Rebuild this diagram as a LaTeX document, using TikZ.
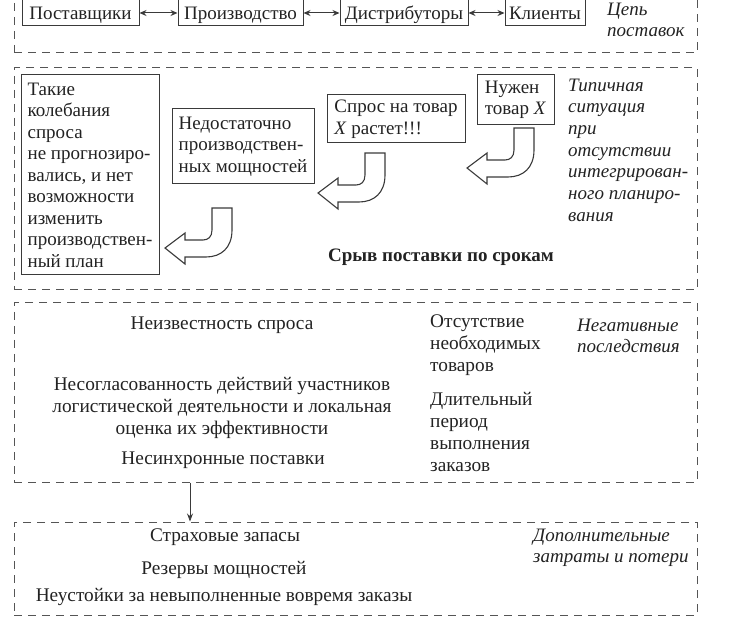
\documentclass[tikz,border=0pt]{standalone}
\usepackage{fontspec}
\setmainfont{Liberation Serif}
\usetikzlibrary{arrows.meta}
\definecolor{ink}{HTML}{222222}
\definecolor{lin}{HTML}{3A3A3A}
\definecolor{dlin}{HTML}{555555}
\begin{document}
\begin{tikzpicture}[x=1pt,y=-1pt,
  every node/.style={text=ink, inner sep=0pt},
  txt/.style={font=\fontsize{19}{21.5}\selectfont},
  ltx/.style={font=\fontsize{19.3}{22}\selectfont},
  itx/.style={font=\fontsize{19}{21.7}\selectfont\itshape},
  fbox/.style={draw=lin, line width=1pt},
  topbox/.style={fbox, txt, minimum height=32pt, text height=22pt, text depth=3pt},
  dashbox/.style={draw=dlin, line width=1pt, dash pattern=on 8pt off 6pt, minimum width=683pt},
  tip/.style={-{Stealth[length=8pt,width=6pt]}, draw=lin, line width=0.9pt},
  dtip/.style={{Stealth[length=7pt,width=6pt]}-{Stealth[length=7pt,width=6pt]}, draw=lin, line width=1pt},
  uarrow/.pic={
    \draw[draw=lin, line width=1.1pt, line join=miter]
      (0,0) -- (20,0) -- (20,22) .. controls (20,40) and (9,49) .. (-6,49)
      -- (-27,49) -- (-27,56) -- (-47,40) -- (-27,25) -- (-27,32) -- (-9,32)
      .. controls (-4,32) and (0,29) .. (0,22) -- cycle;
  }
]
\useasboundingbox (0,0) rectangle (747,620);

% ---- supply chain ----
\node[dashbox, minimum height=63pt] (b1) at (355.5,21.5) {};
\node[topbox, minimum width=117pt] (sup) at (80.5,10) {Поставщики};
\node[topbox, minimum width=125pt] (prod) at (240.5,10) {Производство};
\node[topbox, minimum width=128pt] (dist) at (404,10) {Дистрибуторы};
\node[topbox, minimum width=80pt] (cli) at (545,10) {Клиенты};
\draw[dtip] ([yshift=-3pt]sup.east) -- ([yshift=-3pt]prod.west);
\draw[dtip] ([yshift=-3pt]prod.east) -- ([yshift=-3pt]dist.west);
\draw[dtip] ([yshift=-3pt]dist.east) -- ([yshift=-3pt]cli.west);
\node[itx, align=left, anchor=west] (chain) at (607,20) {Цепь\\поставок};

% ---- typical situation ----
\node[dashbox, minimum height=222pt] (b2) at (355.5,179) {};
\node[fbox, txt, align=left, minimum width=138pt, minimum height=200pt] (such) at (90,175)
  {Такие\\колебания\\спроса\\не прогнозиро-\\вались, и нет\\возможности\\изменить\\производствен-\\ный план};
\node[fbox, txt, align=left, minimum width=142pt, minimum height=75pt] (lack) at (243,146.5)
  {Недостаточно\\производствен-\\ных мощностей};
\node[fbox, txt, align=left, minimum width=138pt, minimum height=48pt] (dem) at (396,119)
  {Спрос на товар\\\textit{X} растет!!!};
\node[fbox, txt, align=left, minimum width=77pt, minimum height=50pt] (need) at (515.5,100)
  {Нужен\\товар \textit{X}};
\pic at (514,128) {uarrow};
\pic at (365,153) {uarrow};
\pic at (212,208) {uarrow};
\node[itx, align=left, anchor=west] (typ) at (568,150)
  {Типичная\\ситуация\\при\\отсутствии\\интегрирован-\\ного планиро-\\вания};
\node[font=\fontsize{19}{22}\selectfont\bfseries] (fail) at (441,257) {Срыв поставки по срокам};

% ---- negative consequences ----
\node[dashbox, minimum height=179pt] (b3) at (355.5,392.5) {};
\node[ltx] (n1) at (222,325) {Неизвестность спроса};
\node[ltx, align=center] (n2) at (222,408)
  {Несогласованность действий участников\\логистической деятельности и локальная\\оценка их эффективности};
\node[ltx] (n3) at (223,460) {Несинхронные поставки};
\node[ltx, align=left, anchor=west] (n4) at (430,345) {Отсутствие\\необходимых\\товаров};
\node[ltx, align=left, anchor=west] (n5) at (430,431.5) {Длительный\\период\\выполнения\\заказов};
\node[itx, align=left, anchor=west] (n6) at (577,336) {Негативные\\последствия};

% ---- additional costs ----
\node[dashbox, minimum height=93pt] (b4) at (355.5,568.5) {};
\node[ltx] (m1) at (225,537) {Страховые запасы};
\node[ltx] (m2) at (224,570) {Резервы мощностей};
\node[ltx] (m3) at (224,597) {Неустойки за невыполненные вовремя заказы};
\node[itx, align=left, anchor=west, font=\fontsize{19}{21}\selectfont\itshape] (m4) at (533,547.5) {Дополнительные\\затраты и потери};

\coordinate (ax) at (190,0);
\draw[tip] (b3.south -| ax) -- (b4.north -| ax);
\end{tikzpicture}
\end{document}
